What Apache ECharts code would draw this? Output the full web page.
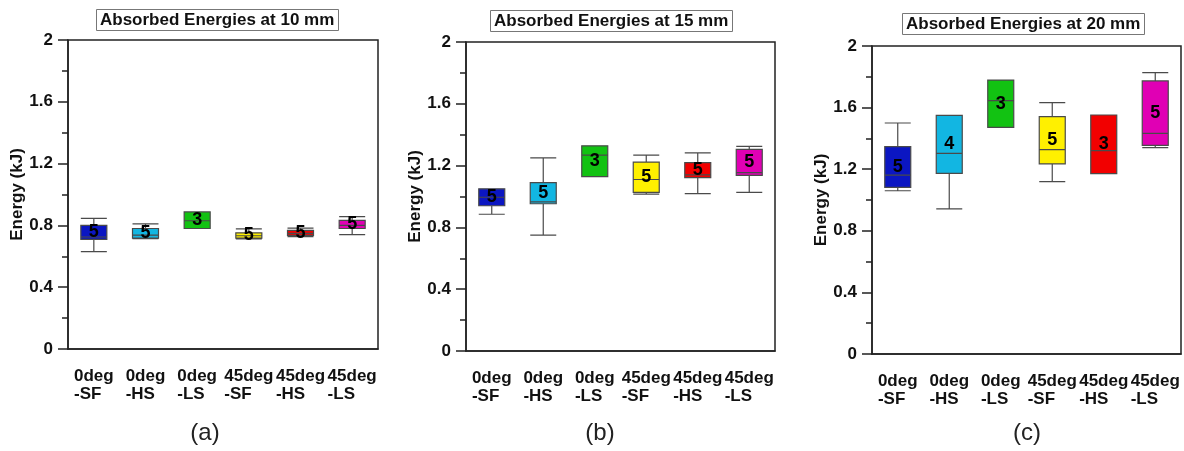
<!DOCTYPE html>
<html>
<head>
<meta charset="utf-8">
<script src="https://cdn.jsdelivr.net/npm/echarts@6/dist/echarts.min.js"></script>
<style>
  html, body { margin: 0; padding: 0; background: #fff; }
  #main { width: 1184px; height: 451px; }
</style>
</head>
<body>
<div id="main"></div>
<script>
// categories (same for all three panels)
const categories = ['0deg\n-SF', '0deg\n-HS', '0deg\n-LS', '45deg\n-SF', '45deg\n-HS', '45deg\n-LS'];

// [min, Q1, median, Q3, max], kJ
const energy10 = [
  [0.63, 0.71, 0.725, 0.80, 0.845],
  [0.715, 0.718, 0.737, 0.78, 0.81],
  [0.78, 0.78, 0.83, 0.887, 0.887],
  [0.713, 0.717, 0.733, 0.752, 0.778],
  [0.727, 0.735, 0.748, 0.768, 0.783],
  [0.74, 0.78, 0.80, 0.832, 0.857]
];
const energy15 = [
  [0.885, 0.94, 0.995, 1.05, 1.05],
  [0.75, 0.953, 0.965, 1.09, 1.25],
  [1.128, 1.128, 1.268, 1.328, 1.328],
  [1.016, 1.027, 1.11, 1.223, 1.268],
  [1.018, 1.122, 1.14, 1.219, 1.282],
  [1.027, 1.137, 1.154, 1.305, 1.325]
];
const energy20 = [
  [1.06, 1.082, 1.162, 1.346, 1.5],
  [0.942, 1.173, 1.303, 1.55, 1.55],
  [1.472, 1.472, 1.645, 1.779, 1.779],
  [1.119, 1.234, 1.327, 1.541, 1.632],
  [1.171, 1.171, 1.32, 1.552, 1.552],
  [1.34, 1.355, 1.433, 1.773, 1.827]
];

// sample counts written inside the boxes
const counts10 = [5, 5, 3, 5, 5, 5];
const counts15 = [5, 5, 3, 5, 5, 5];
const counts20 = [5, 4, 3, 5, 3, 5];

const titles = ['Absorbed Energies at 10 mm', 'Absorbed Energies at 15 mm', 'Absorbed Energies at 20 mm'];
const panelTags = ['(a)', '(b)', '(c)'];

const boxColors = ['#0b16c2', '#12b6e2', '#12c212', '#fff000', '#f20000', '#e000b4'];
const FONT = '"Liberation Sans", Arial, sans-serif';

// panel layout (pixels)
const panels = [
  { left: 68, top: 40, width: 310, height: 309, titleX: 96, titleY: 9, tagX: 205 },
  { left: 466, top: 42, width: 309, height: 309, titleX: 490, titleY: 10, tagX: 600 },
  { left: 872, top: 46, width: 309, height: 308, titleX: 902, titleY: 13, tagX: 1027 }
];
const allData = [energy10, energy15, energy20];
const allCounts = [counts10, counts15, counts20];

var chart = echarts.init(document.getElementById('main'));

let grid = [], xAxis = [], yAxis = [], series = [], title = [], graphic = [];

panels.forEach((p, k) => {
  grid.push({
    left: p.left, top: p.top, width: p.width, height: p.height,
    show: true, borderColor: '#222', borderWidth: 1.5, backgroundColor: 'transparent'
  });
  xAxis.push({
    type: 'category', gridIndex: k, data: categories, boundaryGap: true,
    axisLine: { lineStyle: { color: '#222', width: 1.5 } },
    axisTick: { alignWithLabel: true, length: 10, lineStyle: { color: '#222', width: 1.5 } },
    axisLabel: {
      margin: 18, interval: 0,
      formatter: v => v.split('\n').map(s => '{l|' + s + '}').join('\n'),
      rich: { l: { align: 'left', fontFamily: FONT, fontWeight: 'bold', fontSize: 17, lineHeight: 18, color: '#111' } }
    },
    splitLine: { show: false }
  });
  yAxis.push({
    type: 'value', gridIndex: k, min: 0, max: 2, interval: 0.4,
    name: 'Energy (kJ)', nameLocation: 'middle', nameGap: 42,
    nameTextStyle: { fontFamily: FONT, fontWeight: 'bold', fontSize: 17, color: '#111' },
    axisLine: { show: true, lineStyle: { color: '#222', width: 1.5 } },
    axisTick: { show: true, length: 10, lineStyle: { color: '#222', width: 1.5 } },
    minorTick: { show: true, splitNumber: 2, length: 6, lineStyle: { color: '#222', width: 1.5 } },
    axisLabel: { margin: 15, fontFamily: FONT, fontWeight: 'bold', fontSize: 17, color: '#111' },
    splitLine: { show: false }
  });
  series.push({
    type: 'boxplot', xAxisIndex: k, yAxisIndex: k,
    boxWidth: [26, 26],
    silent: true,
    data: allData[k].map((d, i) => ({
      value: d,
      itemStyle: { color: boxColors[i], borderColor: '#4a4a4a', borderWidth: 1.2 }
    }))
  });
  // n written at the middle of each box
  series.push({
    type: 'scatter', xAxisIndex: k, yAxisIndex: k,
    symbolSize: 2, itemStyle: { color: 'rgba(0,0,0,0)' }, silent: true, z: 10,
    data: allData[k].map((d, i) => [i, (d[1] + d[3]) / 2, allCounts[k][i]]),
    label: {
      show: true, position: 'inside',
      formatter: p => String(p.value[2]),
      fontFamily: FONT, fontWeight: 'bold', fontSize: 18, color: '#000',
      textBorderWidth: 0, opacity: 1
    }
  });
  title.push({
    text: titles[k], left: p.titleX, top: p.titleY,
    padding: [3, 4, 2, 4], borderColor: '#777', borderWidth: 1,
    textStyle: { fontFamily: FONT, fontWeight: 'bold', fontSize: 17, color: '#111' }
  });
  graphic.push({
    type: 'text', x: p.tagX, y: 433,
    style: {
      text: panelTags[k], font: '24px ' + FONT, fill: '#222',
      textAlign: 'center', textVerticalAlign: 'middle', align: 'center', verticalAlign: 'middle'
    }
  });
});

chart.setOption({
  animation: false,
  backgroundColor: '#fff',
  title: title,
  grid: grid,
  xAxis: xAxis,
  yAxis: yAxis,
  series: series,
  graphic: graphic
});
</script>
</body>
</html>
